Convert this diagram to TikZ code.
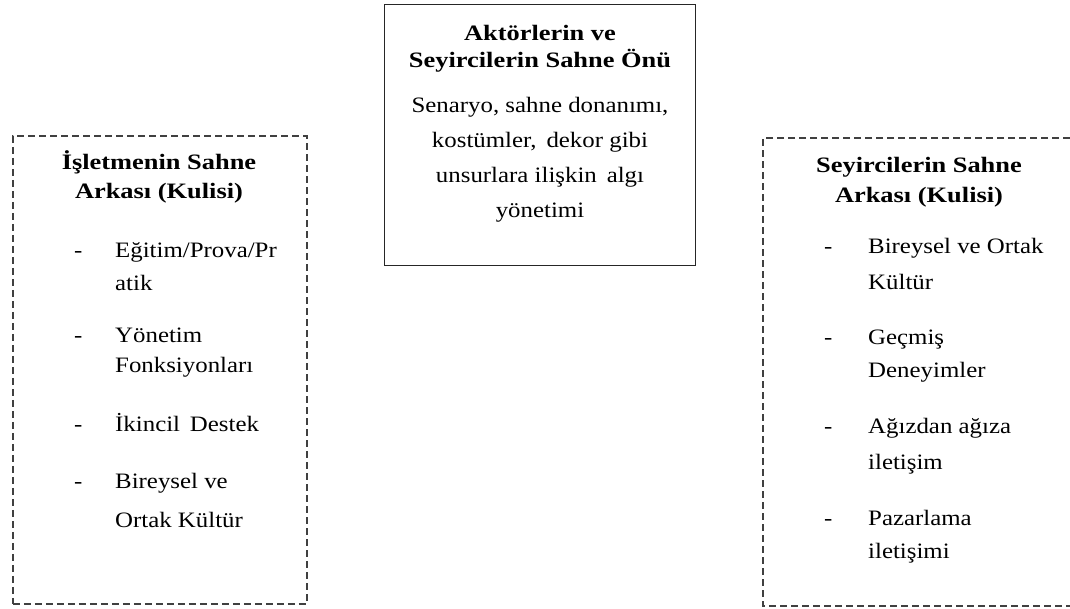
\documentclass[tikz,border=0pt]{standalone}
\usepackage{fontspec}
\setmainfont{Liberation Serif}
\newfontfamily\bodyfont[FakeStretch=1.13]{Liberation Serif}
\newfontfamily\headfont[FakeStretch=1.2]{Liberation Serif}
\begin{document}
\begin{tikzpicture}[x=1pt,y=-1pt,
  ln/.style={anchor=base,inner sep=0pt,font=\fontsize{22}{26}\bodyfont},
  hd/.style={anchor=base,inner sep=0pt,font=\fontsize{22}{26}\headfont\bfseries},
  itm/.style={ln,anchor=base west},
  bullet/.style={ln,anchor=base west},
  dashbox/.style={draw=black!75,line width=1.5pt,dash pattern=on 7pt off 4pt},
  solidbox/.style={draw=black!85,line width=1.2pt}]
\useasboundingbox (0,0) rectangle (1070,608);

% front stage box
\node[solidbox,minimum width=311pt,minimum height=261pt,anchor=north west,inner sep=0pt] (front) at (384,4) {};
\node[hd] (f1) at (540,40) {Aktörlerin ve};
\node[hd] (f2) at (540,67) {Seyircilerin Sahne Önü};
\node[ln] (f3) at (540,112) {Senaryo, sahne donanımı,};
\node[ln] (f4) at (540,147) {kostümler,\, dekor gibi};
\node[ln] (f5) at (540,182) {unsurlara ilişkin\, algı};
\node[ln] (f6) at (540,217) {yönetimi};

% company backstage box
\node[dashbox,minimum width=294pt,minimum height=468pt,anchor=north west,inner sep=0pt] (back) at (12,135) {};
\node[hd] (b1) at (159,169) {İşletmenin Sahne};
\node[hd] (b2) at (159,198) {Arkası (Kulisi)};
\node[bullet] (bd1) at (74,257) {-};
\node[itm] (bi1) at (115,257) {Eğitim/Prova/Pr};
\node[itm] (bi1b) at (115,290) {atik};
\node[bullet] (bd2) at (74,342) {-};
\node[itm] (bi2) at (115,342) {Yönetim};
\node[itm] (bi2b) at (115,372) {Fonksiyonları};
\node[bullet] (bd3) at (74,431) {-};
\node[itm] (bi3) at (115,431) {İkincil\, Destek};
\node[bullet] (bd4) at (74,488) {-};
\node[itm] (bi4) at (115,488) {Bireysel ve};
\node[itm] (bi4b) at (115,527) {Ortak Kültür};

% audience backstage box, running off the right edge
\coordinate (atr) at (1070,138);
\coordinate (atl) at (763,138);
\coordinate (abl) at (763,606);
\coordinate (abr) at (1070,606);
\draw[dashbox] (atr) -- (atl) -- (abl) -- (abr);
\node[hd] (a1) at (919,172) {Seyircilerin Sahne};
\node[hd] (a2) at (919,202) {Arkası (Kulisi)};
\node[bullet] (ad1) at (824,253) {-};
\node[itm] (ai1) at (868,253) {Bireysel ve Ortak};
\node[itm] (ai1b) at (868,289) {Kültür};
\node[bullet] (ad2) at (824,344) {-};
\node[itm] (ai2) at (868,344) {Geçmiş};
\node[itm] (ai2b) at (868,377) {Deneyimler};
\node[bullet] (ad3) at (824,433) {-};
\node[itm] (ai3) at (868,433) {Ağızdan ağıza};
\node[itm] (ai3b) at (868,469) {iletişim};
\node[bullet] (ad4) at (824,525) {-};
\node[itm] (ai4) at (868,525) {Pazarlama};
\node[itm] (ai4b) at (868,558) {iletişimi};
\end{tikzpicture}
\end{document}
